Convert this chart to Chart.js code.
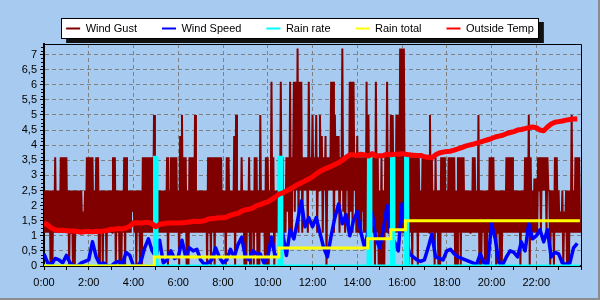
<!DOCTYPE html>
<html><head><meta charset="utf-8">
<script src="https://cdn.jsdelivr.net/npm/chart.js@4.4.0/dist/chart.umd.min.js"></script>
<style>
html,body{margin:0;padding:0;background:#A6CAF0;}
#wrap{position:relative;width:600px;height:300px;overflow:hidden;}
#wrap::after{content:'';position:absolute;left:0;top:0;right:0;bottom:0;border-right:2px solid #8c8c8c;border-bottom:2px solid #8c8c8c;pointer-events:none;}
canvas{display:block;}
</style></head><body>
<div id="wrap"><canvas id="c" width="600" height="300"></canvas></div>
<script>
// ---- data ----
const seriesNames = ['Wind Gust', 'Wind Speed', 'Rain rate', 'Rain total', 'Outside Temp'];
const xTickLabels = ['0:00','2:00','4:00','6:00','8:00','10:00','12:00','14:00','16:00','18:00','20:00','22:00'];

// Wind gust per 5-minute slot from 0:00: highest and lowest reading in the slot
const gustStepMinutes = 5;
const windGustHigh = [
 2.5,2.5,2.5,2.5,2.5,2.5,3.6,2.5,2.5,3.6,3.6,3.6,
 3.6,2.5,2.5,2.5,2.5,2.5,2.5,2.5,2.5,1.8,2.5,3.6,
 3.6,3.6,3.6,2.5,3.6,3.6,2.5,2.5,2.5,2.5,2.5,2.5,
 2.5,3.6,3.6,2.5,2.5,2.5,2.5,3.6,3.6,2.5,2.5,2.5,
 2.5,2.5,2.5,2.5,2.5,3.6,3.6,3.6,3.6,3.6,3.6,5.0,
 3.6,2.5,2.5,2.5,2.5,2.5,3.6,2.5,3.6,3.6,3.6,3.6,
 2.5,4.3,5.0,3.6,3.6,2.5,3.6,3.6,3.6,5.0,2.5,2.5,
 2.5,2.5,2.5,2.5,3.6,3.6,3.6,3.6,3.6,3.6,3.6,3.6,
 2.5,2.5,3.6,3.6,2.5,2.5,4.3,5.0,2.5,2.5,3.6,2.5,
 2.5,2.5,3.6,2.5,2.5,3.6,3.6,2.5,5.0,2.5,2.5,3.6,
 3.6,2.5,6.1,3.6,2.5,2.5,3.6,6.1,3.6,2.5,3.6,3.6,
 6.1,3.6,6.1,6.1,7.2,6.1,6.1,3.6,3.6,3.6,6.1,3.6,
 5.0,3.6,5.0,3.6,5.0,4.3,3.6,4.3,3.6,3.6,6.1,6.1,
 5.0,4.3,4.3,3.6,7.2,3.6,3.6,3.6,6.1,6.1,6.1,3.6,
 4.3,3.6,3.6,3.6,3.6,6.1,5.0,3.6,3.6,3.6,6.1,3.6,
 2.5,3.6,2.5,3.6,6.1,3.6,5.0,5.0,3.6,5.0,5.0,7.2,
 7.2,7.2,3.6,3.6,3.6,3.6,3.6,3.6,3.6,3.6,2.5,3.6,
 3.6,3.6,3.6,5.0,3.6,2.5,3.6,2.5,2.5,3.6,3.6,3.6,
 2.5,3.6,3.6,3.6,3.6,2.5,3.6,3.6,3.6,3.6,2.5,2.5,
 2.5,2.5,3.6,3.6,2.5,5.0,2.5,2.5,2.5,2.5,2.5,3.6,
 3.6,3.6,2.5,2.5,2.5,2.5,2.5,2.5,3.6,3.6,3.6,3.6,
 2.5,2.5,2.5,2.5,2.5,2.5,3.6,3.6,5.0,3.6,2.5,2.9,
 2.9,3.6,3.6,3.6,3.6,3.6,3.6,2.5,2.5,2.5,3.6,3.6,
 2.5,1.8,2.5,1.8,2.5,2.5,2.5,5.0,2.5,3.6,3.6,3.6
];
const windGustLow = [
 1.1,1.1,1.1,0,0,1.1,1.1,1.1,1.1,1.1,1.1,1.1,
 1.1,0,1.1,0,0,1.1,1.1,1.1,1.1,1.1,1.1,1.1,
 1.1,1.1,1.1,1.1,1.1,0,1.1,0,1.1,0,1.1,1.1,
 1.1,1.1,0,1.1,0,0,1.1,0,1.1,1.1,1.1,1.8,
 1.1,0,1.1,0,0,1.1,1.1,1.1,1.1,1.1,1.1,1.1,
 1.1,1.1,1.1,1.1,1.1,1.1,0,1.1,1.1,1.1,1.1,1.1,
 0,1.1,1.1,1.1,0,0,1.1,1.1,1.1,1.1,1.1,1.1,
 1.1,1.1,1.1,0,1.1,0,1.1,0,1.1,1.1,1.1,1.1,
 1.1,0,1.1,1.1,1.1,1.1,0,1.1,1.1,1.1,1.1,0,
 0,1.1,0,1.1,0,1.1,0,0,1.1,1.1,0,0,
 0,1.1,1.1,0,1.1,1.1,1.1,1.1,1.1,1.1,1.8,1.1,
 1.1,2.5,1.8,2.5,1.1,2.5,1.1,2.5,2.5,1.1,2.5,2.5,
 2.5,2.5,1.1,2.5,2.5,1.1,2.5,0,2.5,2.5,2.5,1.1,
 2.5,2.5,1.1,2.5,1.8,1.1,2.5,1.1,1.8,1.1,2.5,1.1,
 1.1,1.1,1.8,1.1,1.1,1.1,1.8,1.1,1.1,0,1.1,0,
 0,0,0,1.1,1.1,1.1,1.1,1.8,1.1,1.1,1.1,1.1,
 1.1,1.1,1.1,0,1.1,0,1.1,1.1,0,1.1,1.1,1.1,
 1.1,1.1,1.1,1.1,1.1,0,1.1,0,0,1.1,1.1,1.1,
 1.1,1.1,1.1,1.1,0,0,1.1,0,1.1,1.1,1.1,1.1,
 1.1,1.1,1.1,1.1,1.1,0,0,1.1,0,0,1.1,1.1,
 1.1,1.1,0,1.1,0,0,1.1,1.1,1.1,1.1,1.1,1.1,
 1.1,1.1,1.1,0,1.1,1.1,1.1,1.1,0,1.1,1.1,1.1,
 1.1,2.5,1.1,2.5,2.5,1.1,2.5,0,1.1,0,1.1,1.1,
 1.1,1.1,0,1.1,0,0,1.1,1.1,1.1,1.1,1.1,1.1
];

// Wind speed, one value every 10 minutes from 0:00
const speedStepMinutes = 10;
const windSpeed = [
 0.4,0.1,0.05,0.25,0.2,0.1,
 0.35,0.1,0,0,0.1,0.15,
 0.2,0.8,0.3,0.05,0.1,0,
 0,0.1,0.15,0.05,0.45,0.35,
 0,0,0.15,0.6,0.9,0.5,
 0.3,0.85,0.1,0.2,0.5,0.25,
 0.3,0.85,0.3,0.6,0.5,0.55,
 0.2,0.05,0.1,0.2,0.6,0.3,
 0.1,0.2,0.55,0.3,0.7,0.95,
 0.3,0.2,0.5,0.4,0.4,0.1,
 0.3,0.95,0.3,0.4,1.1,0.35,
 1.2,0.9,1.5,2.15,1.3,1.6,
 1.3,1.6,1.1,0.6,0.3,1.0,
 1.6,2.05,1.4,1.7,1.0,1.5,
 1.8,1.1,0.6,1.2,1.75,0.9,
 0.6,1.2,2.0,1.0,0.8,0.5,
 2.05,1.0,0.4,0.3,0.2,0.15,
 0.2,0.6,1.05,0.3,0.25,0.2,
 0.5,0.55,0.4,0.3,0.25,0.2,
 0.15,0.1,0.05,0.4,0.1,0.05,
 1.4,0.9,0.1,0.05,0.3,0.5,
 0.45,0.3,0.8,0.5,1.4,0.9,
 1.0,1.2,0.8,1.2,0.3,0.45,
 0.4,0.1,0.05,0.1,0.6,0.75
];

// Outside temperature, one value every 10 minutes from 0:00
const tempStepMinutes = 10;
const outsideTemp = [
 1.42,1.36,1.26,1.2,1.18,1.18,
 1.17,1.16,1.16,1.14,1.12,1.14,
 1.14,1.13,1.15,1.14,1.16,1.18,
 1.22,1.22,1.24,1.22,1.26,1.32,
 1.42,1.43,1.42,1.44,1.44,1.4,
 1.3,1.38,1.4,1.42,1.42,1.42,
 1.42,1.43,1.44,1.46,1.47,1.47,
 1.48,1.5,1.55,1.57,1.58,1.6,
 1.6,1.62,1.68,1.72,1.74,1.82,
 1.86,1.88,1.92,2.0,2.03,2.08,
 2.12,2.2,2.28,2.38,2.42,2.48,
 2.55,2.62,2.7,2.75,2.82,2.88,
 2.95,3.05,3.13,3.2,3.25,3.3,
 3.36,3.42,3.5,3.6,3.68,3.68,
 3.66,3.7,3.68,3.64,3.72,3.64,
 3.65,3.66,3.7,3.68,3.7,3.7,
 3.72,3.7,3.68,3.67,3.66,3.66,
 3.62,3.6,3.58,3.68,3.74,3.77,
 3.79,3.8,3.84,3.88,3.92,3.97,
 4.0,4.03,4.07,4.1,4.14,4.18,
 4.22,4.27,4.3,4.33,4.38,4.42,
 4.45,4.5,4.52,4.55,4.58,4.6,
 4.58,4.5,4.48,4.6,4.7,4.76,
 4.78,4.8,4.83,4.85,4.87,4.87
];

// Rain rate (time in hours, value)
const rainRateTimes  = [0, 4.92, 4.94, 5.03, 5.05, 10.50, 10.52, 10.61, 10.63, 14.48, 14.50, 14.59, 14.61, 15.51, 15.53, 15.62, 15.64, 16.14, 16.16, 16.25, 16.27, 23.95];
const rainRateValues = [0, 0,    3.6,  3.6,  0,    0,     3.6,   3.6,   0,     0,     3.6,   3.6,   0,     0,     3.6,   3.6,   0,     0,     3.6,   3.6,   0,     0];

// Rain total (time in hours when the total changes, new total)
const rainTotalTimes  = [0, 4.93, 10.5, 14.47, 15.5, 16.15, 23.95];
const rainTotalValues = [0, 0.3,  0.6,  0.9,   1.2,  1.5,   1.5];

// ---- build ----
const stepSeries = (vals, stepMin) => vals.map((v, i) => ({x: i * stepMin / 60, y: v}));
const pairSeries = (xs, ys) => xs.map((x, i) => ({x: x, y: ys[i]}));
const highLowSeries = (hi, lo, stepMin) => {
  const out = [];
  hi.forEach((h, i) => {
    out.push({x: i * stepMin / 60, y: h});
    out.push({x: (i + 0.5) * stepMin / 60, y: lo[i]});
  });
  return out;
};
const colors = ['#800000', '#0000FF', '#00FFFF', '#FFFF00', '#FF0000'];
const FONT = {family: "'Liberation Sans', Arial, sans-serif", size: 11};

const legendBox = {
  id: 'legendBox',
  beforeDraw(chart) {
    const lg = chart.legend;
    if (!lg || !lg.legendHitBoxes || !lg.legendHitBoxes.length) return;
    const hb = lg.legendHitBoxes;
    const l = Math.min(...hb.map(h => h.left)) - 5;
    const r = Math.max(...hb.map(h => h.left + h.width)) + 5;
    const t = hb[0].top - 5;
    const b = hb[0].top + hb[0].height + 5;
    const ctx = chart.ctx;
    ctx.save();
    ctx.fillStyle = '#111';
    ctx.fillRect(l + 5, t + 4, r - l, b - t);
    ctx.fillStyle = '#fff';
    ctx.fillRect(l, t, r - l, b - t);
    ctx.strokeStyle = '#000';
    ctx.lineWidth = 1;
    ctx.strokeRect(Math.round(l) + 0.5, Math.round(t) + 0.5, Math.round(r - l) - 1, Math.round(b - t) - 1);
    ctx.restore();
  }
};

const frame = {
  id: 'frame',
  afterDatasetsDraw(chart) {
    const {ctx, chartArea: a, scales} = chart;
    ctx.save();
    ctx.strokeStyle = '#000';
    ctx.lineWidth = 1;
    ctx.beginPath();
    ctx.moveTo(a.left, Math.round(a.top) + 0.5);
    ctx.lineTo(Math.round(a.right) + 0.5, Math.round(a.top) + 0.5);
    ctx.lineTo(Math.round(a.right) + 0.5, a.bottom);
    ctx.stroke();
    // minor ticks on the value axis
    const y = scales.y;
    ctx.beginPath();
    for (let v = 0; v <= y.max + 1e-9; v += 0.125) {
      if (Math.abs(v * 2 - Math.round(v * 2)) < 1e-6) continue;
      const py = Math.round(y.getPixelForValue(v)) + 0.5;
      ctx.moveTo(a.left - 3, py);
      ctx.lineTo(a.left - 1, py);
    }
    ctx.stroke();
    ctx.restore();
  }
};

new Chart(document.getElementById('c'), {
  type: 'line',
  data: {
    datasets: [
      {label: seriesNames[0], data: highLowSeries(windGustHigh, windGustLow, gustStepMinutes), borderColor: colors[0], backgroundColor: colors[0], borderWidth: 2, borderJoinStyle: 'bevel', order: 5},
      {label: seriesNames[1], data: stepSeries(windSpeed, speedStepMinutes), borderColor: colors[1], backgroundColor: colors[1], borderWidth: 3.5, borderJoinStyle: 'round', order: 4},
      {label: seriesNames[2], data: pairSeries(rainRateTimes, rainRateValues), borderColor: colors[2], backgroundColor: colors[2], borderWidth: 3, borderJoinStyle: 'miter', order: 3},
      {label: seriesNames[3], data: pairSeries(rainTotalTimes, rainTotalValues), borderColor: colors[3], backgroundColor: colors[3], borderWidth: 3, stepped: 'before', order: 2},
      {label: seriesNames[4], data: stepSeries(outsideTemp, tempStepMinutes), borderColor: colors[4], backgroundColor: colors[4], borderWidth: 5, borderJoinStyle: 'round', order: 1}
    ]
  },
  options: {
    responsive: false,
    animation: false,
    devicePixelRatio: 1,
    events: [],
    elements: {point: {radius: 0}, line: {tension: 0, fill: false, capBezierPoints: false}},
    layout: {padding: {top: -2, right: 0, bottom: 4, left: 0}},
    plugins: {
      tooltip: {enabled: false},
      legend: {
        position: 'top',
        maxHeight: 46,
        labels: {
          usePointStyle: true,
          pointStyleWidth: 14,
          padding: 25,
          color: '#000',
          font: FONT,
          generateLabels: (chart) => chart.data.datasets.map((ds, i) => ({
            text: ds.label, strokeStyle: ds.borderColor, fillStyle: ds.borderColor,
            lineWidth: 2, pointStyle: 'line', hidden: false, datasetIndex: i, fontColor: '#000'
          }))
        }
      }
    },
    scales: {
      x: {
        type: 'linear', min: 0, max: 24,
        ticks: {
          stepSize: 1, autoSkip: false, maxRotation: 0, padding: 6, color: '#000', font: FONT,
          includeBounds: false, maxTicksLimit: 30,
          callback: (v) => (v % 2 === 0 && v / 2 < xTickLabels.length) ? xTickLabels[v / 2] : ''
        },
        grid: {
          color: (c) => (c.tick && c.tick.value % 2 === 0 && c.tick.value > 0 && c.tick.value < 24) ? '#808080' : 'rgba(0,0,0,0)',
          tickColor: '#000', tickLength: 4, lineWidth: 1
        },
        border: {color: '#000', width: 2, dash: [4, 3]},
        afterFit: (s) => { s.height = 30; }
      },
      y: {
        min: 0, max: 7.35,
        ticks: {
          stepSize: 0.5, includeBounds: false, maxTicksLimit: 30, autoSkip: false, padding: 3, color: '#000', font: FONT,
          callback: (v) => String(v).replace('.', ',')
        },
        grid: {
          color: (c) => (c.tick && c.tick.value > 0) ? '#808080' : 'rgba(0,0,0,0)',
          tickColor: '#000', tickLength: 4, lineWidth: 1
        },
        border: {color: '#000', width: 2, dash: [4, 3]},
        afterFit: (s) => { s.width = 44; }
      },
      yRight: {
        position: 'right', min: 0, max: 7.35,
        grid: {display: false, drawTicks: false},
        ticks: {display: false},
        border: {display: false},
        afterFit: (s) => { s.width = 19; }
      }
    }
  },
  plugins: [legendBox, frame]
});
</script>
</body></html>
